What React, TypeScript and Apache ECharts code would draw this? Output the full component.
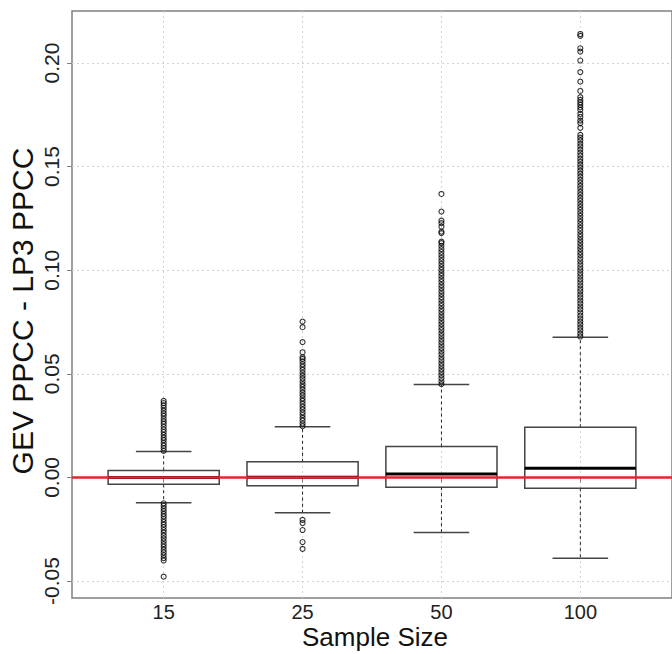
import React, { useEffect, useRef } from "react";
import * as echarts from "echarts";

const categories = ["15", "25", "50", "100"];
const yTicks = [-0.05, 0, 0.05, 0.1, 0.15, 0.2];

// box statistics per sample size
const q1s = [-0.0033, -0.004, -0.0047, -0.0052];
const medians = [0.0, 0.0001, 0.0017, 0.0044];
const q3s = [0.0033, 0.0075, 0.0149, 0.0242];
const whiskerLo = [-0.0122, -0.0171, -0.0266, -0.039];
const whiskerHi = [0.0125, 0.0245, 0.0448, 0.0677];

// outliers per sample size
const outliers15 = [
  0.0128, 0.0141, 0.0153, 0.0166, 0.018, 0.0192, 0.0205, 0.0219, 0.0231, 0.0244,
  0.0258, 0.027, 0.0283, 0.0297, 0.0309, 0.0322, 0.0336, 0.0348, 0.0359, 0.0369,
  -0.0125, -0.0137, -0.015, -0.0163, -0.0176, -0.0188, -0.0201, -0.0215, -0.0228,
  -0.024, -0.0254, -0.0267, -0.0281, -0.0294, -0.0308, -0.0322, -0.0335, -0.0349,
  -0.0362, -0.0375, -0.0389, -0.0401, -0.0479,
];
const outliers25 = [
  0.0247, 0.026, 0.0274, 0.0287, 0.0301, 0.0314, 0.0328, 0.0341, 0.0355, 0.0369,
  0.0382, 0.0396, 0.0409, 0.0423, 0.0437, 0.045, 0.0464, 0.0478, 0.0491, 0.0505,
  0.0519, 0.0533, 0.0546, 0.056, 0.0572, 0.058, 0.0604, 0.0653, 0.0725, 0.0752,
  -0.0205, -0.022, -0.0254, -0.0312, -0.0345,
];
const outliers50 = [
  0.045, 0.0464, 0.0479, 0.0493, 0.0508, 0.0522, 0.0537, 0.0551, 0.0566, 0.058,
  0.0595, 0.0609, 0.0624, 0.0638, 0.0653, 0.0667, 0.0682, 0.0696, 0.0711, 0.0725,
  0.074, 0.0754, 0.0769, 0.0783, 0.0798, 0.0812, 0.0827, 0.0841, 0.0856, 0.087,
  0.0885, 0.0899, 0.0914, 0.0928, 0.0943, 0.0957, 0.0972, 0.0986, 0.1001, 0.1015,
  0.103, 0.1044, 0.1059, 0.1073, 0.1088, 0.1102, 0.1117, 0.1131, 0.1138, 0.1179,
  0.1186, 0.121, 0.1227, 0.1239, 0.1283, 0.1368,
];
const outliers100 = [
  0.068, 0.0694, 0.0709, 0.0723, 0.0738, 0.0752, 0.0767, 0.0781, 0.0796, 0.0811,
  0.0825, 0.084, 0.0854, 0.0869, 0.0883, 0.0898, 0.0912, 0.0927, 0.0942, 0.0956,
  0.0971, 0.0985, 0.1, 0.1014, 0.1029, 0.1043, 0.1058, 0.1073, 0.1087, 0.1102,
  0.1116, 0.1131, 0.1145, 0.116, 0.1174, 0.1189, 0.1204, 0.1218, 0.1233, 0.1247,
  0.1262, 0.1276, 0.1291, 0.1305, 0.132, 0.1335, 0.1349, 0.1364, 0.1378, 0.1393,
  0.1407, 0.1422, 0.1436, 0.1451, 0.1466, 0.148, 0.1495, 0.1509, 0.1524, 0.1538,
  0.1553, 0.1567, 0.1582, 0.1597, 0.1611, 0.1626, 0.164, 0.1653, 0.1687, 0.171,
  0.1722, 0.174, 0.1754, 0.1774, 0.1786, 0.1798, 0.181, 0.1822, 0.1835, 0.1865,
  0.191, 0.1956, 0.2012, 0.2055, 0.2071, 0.2131, 0.214,
];
const outlierGroups = [outliers15, outliers25, outliers50, outliers100];

const FONT = "'Liberation Sans', Arial, Helvetica, sans-serif";

export default function App() {
  const ref = useRef<HTMLDivElement>(null);
  useEffect(() => {
    if (!ref.current) return;
    const chart = echarts.init(ref.current, undefined, { renderer: "svg" });

    const boxData = categories.map((_, i) => [
      i + 1,
      q1s[i],
      medians[i],
      q3s[i],
      whiskerLo[i],
      whiskerHi[i],
    ]);
    const outlierData: number[][] = [];
    outlierGroups.forEach((g, i) => g.forEach((v) => outlierData.push([i + 1, v])));

    const option: any = {
      animation: false,
      textStyle: { fontFamily: FONT },
      grid: {
        left: 72,
        top: 11,
        width: 606,
        height: 587,
        show: true,
        borderColor: "#808080",
        borderWidth: 1.5,
        backgroundColor: "transparent",
      },
      xAxis: {
        type: "value",
        min: 0.34,
        max: 4.66,
        minInterval: 1,
        maxInterval: 1,
        axisLine: { show: false },
        axisTick: {
          show: true,
          length: 5,
          inside: false,
          customValues: [1, 2, 3, 4],
          lineStyle: { color: "#808080", width: 1 },
        },
        axisLabel: {
          customValues: [1, 2, 3, 4],
          fontSize: 20,
          color: "#222",
          fontFamily: FONT,
          margin: 4,
          formatter: (v: number) => {
            const r = Math.round(v);
            return Math.abs(v - r) < 1e-6 && r >= 1 && r <= 4 ? categories[r - 1] : "";
          },
        },
        splitLine: {
          show: true,
          lineStyle: { color: "#d3d3d3", type: [2, 3], width: 1 },
        },
      },
      yAxis: {
        type: "value",
        min: -0.0582,
        max: 0.2251,
        minInterval: 0.05,
        maxInterval: 0.05,
        axisLine: { show: false },
        axisTick: {
          show: true,
          length: 5,
          inside: false,
          customValues: yTicks,
          lineStyle: { color: "#808080", width: 1 },
        },
        axisLabel: {
          customValues: yTicks,
          rotate: 90,
          fontSize: 21,
          color: "#222",
          fontFamily: FONT,
          margin: 10,
          formatter: (v: number) => {
            const ok = yTicks.some((t) => Math.abs(t - v) < 1e-9);
            return ok ? (Math.abs(v) < 1e-9 ? "0.00" : v.toFixed(2)) : "";
          },
        },
        splitLine: {
          show: true,
          lineStyle: { color: "#d3d3d3", type: [2, 3], width: 1 },
        },
      },
      series: [
        {
          type: "custom",
          coordinateSystem: "cartesian2d",
          data: boxData,
          z: 3,
          renderItem: (params: any, api: any) => {
            const x = api.value(0);
            const pQ1 = api.coord([x, api.value(1)]);
            const pMed = api.coord([x, api.value(2)]);
            const pQ3 = api.coord([x, api.value(3)]);
            const pLo = api.coord([x, api.value(4)]);
            const pHi = api.coord([x, api.value(5)]);
            const boxW = api.size([0.8, 0])[0];
            const capW = api.size([0.4, 0])[0];
            const cx = pQ1[0];
            return {
              type: "group",
              children: [
                {
                  type: "line",
                  shape: { x1: cx, y1: pQ3[1], x2: cx, y2: pHi[1] },
                  style: { stroke: "#222", lineWidth: 1, lineDash: [3, 3] },
                },
                {
                  type: "line",
                  shape: { x1: cx, y1: pQ1[1], x2: cx, y2: pLo[1] },
                  style: { stroke: "#222", lineWidth: 1, lineDash: [3, 3] },
                },
                {
                  type: "line",
                  shape: { x1: cx - capW / 2, y1: pHi[1], x2: cx + capW / 2, y2: pHi[1] },
                  style: { stroke: "#444", lineWidth: 1.5 },
                },
                {
                  type: "line",
                  shape: { x1: cx - capW / 2, y1: pLo[1], x2: cx + capW / 2, y2: pLo[1] },
                  style: { stroke: "#444", lineWidth: 1.5 },
                },
                {
                  type: "rect",
                  shape: { x: cx - boxW / 2, y: pQ3[1], width: boxW, height: pQ1[1] - pQ3[1] },
                  style: { fill: "none", stroke: "#444", lineWidth: 1.5 },
                },
                {
                  type: "line",
                  shape: { x1: cx - boxW / 2, y1: pMed[1], x2: cx + boxW / 2, y2: pMed[1] },
                  style: { stroke: "#000", lineWidth: 3 },
                },
              ],
            };
          },
        },
        {
          type: "scatter",
          data: outlierData,
          symbol: "circle",
          symbolSize: 5,
          z: 4,
          itemStyle: { color: "rgba(0,0,0,0)", borderColor: "#000", borderWidth: 1.1 },
          markLine: {
            silent: true,
            symbol: ["none", "none"],
            label: { show: false },
            lineStyle: { color: "#e3262b", width: 2.5, type: "solid" },
            data: [{ yAxis: 0 }],
            z: 6,
          },
        },
      ],
      graphic: [
        {
          type: "text",
          x: 375,
          y: 637,
          style: {
            text: "Sample Size",
            fontSize: 26,
            fontFamily: FONT,
            fill: "#111",
            align: "center",
            verticalAlign: "middle",
          },
        },
        {
          type: "text",
          x: 22,
          y: 311,
          rotation: Math.PI / 2,
          style: {
            text: "GEV PPCC - LP3 PPCC",
            fontSize: 30,
            fontFamily: FONT,
            fill: "#111",
            align: "center",
            verticalAlign: "middle",
          },
        },
      ],
    };
    chart.setOption(option);
    return () => chart.dispose();
  }, []);
  return (
    <div
      ref={ref}
      style={{ position: "absolute", left: 0, top: 0, width: 672, height: 654, overflow: "hidden" }}
    />
  );
}
